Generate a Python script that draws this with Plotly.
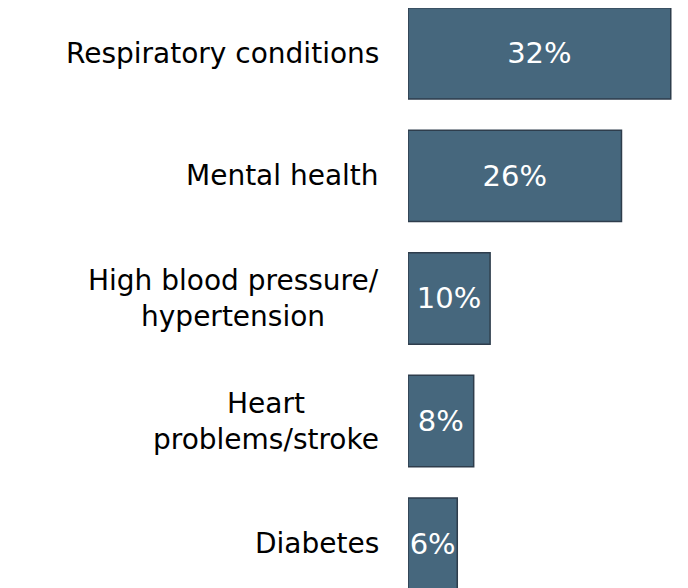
import plotly.graph_objects as go

conditions = [
    "Respiratory conditions",
    "Mental health",
    "High blood pressure/<br>hypertension",
    "Heart<br>problems/stroke",
    "Diabetes",
]
shares = [32, 26, 10, 8, 6]
share_labels = ["32%", "26%", "10%", "8%", "6%"]

FONT = "Verdana, DejaVu Sans, sans-serif"
BAR = "#46677d"

fig = go.Figure(
    go.Bar(
        x=shares,
        y=list(range(len(conditions))),
        orientation="h",
        text=share_labels,
        textposition="inside",
        insidetextanchor="middle",
        textangle=0,
        constraintext="none",
        textfont=dict(color="white", size=29, family=FONT),
        marker=dict(color=BAR, line=dict(color="#2e3d4c", width=1.5)),
        width=0.745,
        cliponaxis=False,
    )
)

# category labels on the left, centred multi-line text
for i, name in enumerate(conditions):
    fig.add_annotation(
        x=-0.0964, xref="paper", xanchor="right",
        y=i, yref="y", yanchor="middle",
        text=name, showarrow=False, align="center",
        font=dict(size=28, color="black", family=FONT),
    )

# page body has an 8px margin, so the figure is a little smaller than the window
fig.update_layout(
    width=680,
    height=580,
    margin=dict(l=400, r=0, t=0, b=0),
    plot_bgcolor="white",
    paper_bgcolor="white",
    showlegend=False,
    xaxis=dict(range=[0, 34.1], visible=False),
    yaxis=dict(range=[4.363, -0.371], visible=False),
)

fig.write_html("out.html")
